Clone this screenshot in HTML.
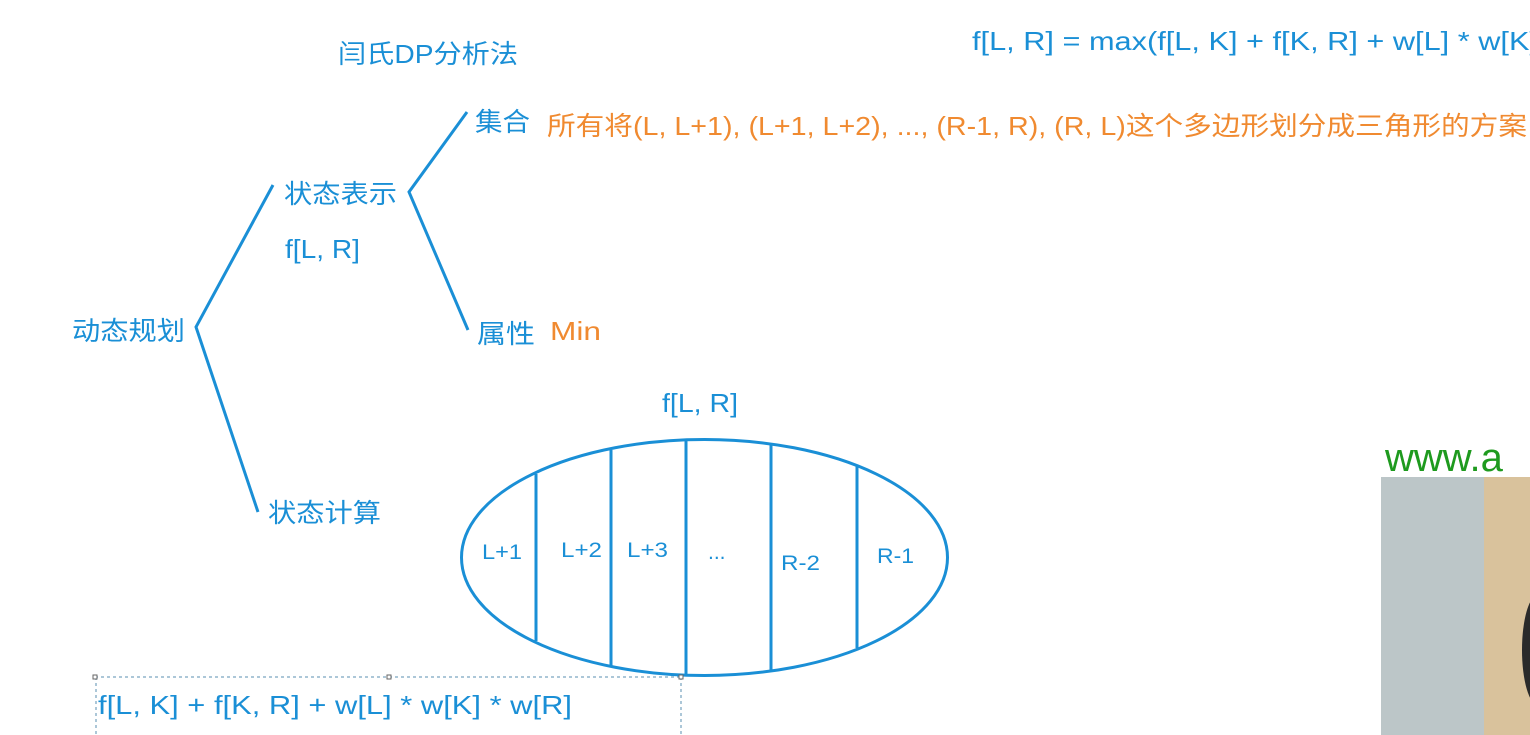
<!DOCTYPE html>
<html><head><meta charset="utf-8"><style>
html,body{margin:0;padding:0;background:#fff;width:1530px;height:735px;overflow:hidden;position:relative}
svg{position:absolute;left:0;top:0}
text{font-family:"Liberation Sans","Noto Sans CJK SC",sans-serif}
</style></head><body>
<svg width="1530" height="735" viewBox="0 0 1530 735">
<g stroke="#1a8fd6" stroke-width="3" fill="none">
<polyline points="273,185 196,327 258,512"/>
<polyline points="467,112 409,192 468,330"/>
<ellipse cx="704.5" cy="557.5" rx="243" ry="118"/>
<line x1="536" y1="474" x2="536" y2="641"/>
<line x1="611" y1="450" x2="611" y2="666"/>
<line x1="686" y1="440" x2="686" y2="675"/>
<line x1="771" y1="444" x2="771" y2="670"/>
<line x1="857" y1="466" x2="857" y2="648"/>
</g>
<g stroke="#5a8fb0" stroke-width="1" stroke-dasharray="3,3" fill="none">
<line x1="95" y1="677" x2="681" y2="677"/>
<line x1="96" y1="677" x2="96" y2="735"/>
<line x1="681" y1="677" x2="681" y2="735"/>
</g>
<g fill="#fff" stroke="#666" stroke-width="1">
<rect x="93" y="675" width="4" height="4"/><rect x="387" y="675" width="4" height="4"/><rect x="679" y="675" width="4" height="4"/>
</g>
<g fill="#1a8fd6" font-size="26" lengthAdjust="spacingAndGlyphs">
<text x="338" y="63" textLength="180" lengthAdjust="spacingAndGlyphs">闫氏DP分析法</text>
<text x="972" y="50" textLength="566" lengthAdjust="spacingAndGlyphs">f[L, R] = max(f[L, K] + f[K, R] + w[L] * w[K]</text>
<text x="475" y="131" textLength="55" lengthAdjust="spacingAndGlyphs">集合</text>
<text x="284" y="203" textLength="113" lengthAdjust="spacingAndGlyphs">状态表示</text>
<text x="285" y="258" textLength="75" lengthAdjust="spacingAndGlyphs">f[L, R]</text>
<text x="72" y="340" textLength="113" lengthAdjust="spacingAndGlyphs">动态规划</text>
<text x="477" y="343" textLength="58" lengthAdjust="spacingAndGlyphs">属性</text>
<text x="662" y="412" textLength="76" lengthAdjust="spacingAndGlyphs">f[L, R]</text>
<text x="268" y="522" textLength="113" lengthAdjust="spacingAndGlyphs">状态计算</text>
<text x="98" y="714" textLength="474" lengthAdjust="spacingAndGlyphs">f[L, K] + f[K, R] + w[L] * w[K] * w[R]</text>
</g>
<g fill="#1a8fd6" font-size="21">
<text x="482" y="559" textLength="40" lengthAdjust="spacingAndGlyphs">L+1</text>
<text x="561" y="557" textLength="41" lengthAdjust="spacingAndGlyphs">L+2</text>
<text x="627" y="557" textLength="41" lengthAdjust="spacingAndGlyphs">L+3</text>
<text x="708" y="559">...</text>
<text x="781" y="570" textLength="39" lengthAdjust="spacingAndGlyphs">R-2</text>
<text x="877" y="563" textLength="37" lengthAdjust="spacingAndGlyphs">R-1</text>
</g>
<g fill="#f08a30" font-size="26">
<text x="547" y="135" textLength="980" lengthAdjust="spacingAndGlyphs">所有将(L, L+1), (L+1, L+2), ..., (R-1, R), (R, L)这个多边形划分成三角形的方案</text>
<text x="550" y="340" textLength="51" lengthAdjust="spacingAndGlyphs">Min</text>
</g>
<text x="1385" y="471" font-size="40" fill="#1e9a1e">www.a</text>
<rect x="1381" y="477" width="149" height="258" fill="#bcc6c8"/>
<rect x="1484" y="477" width="46" height="258" fill="#d9c29c"/>
<ellipse cx="1538" cy="650" rx="16" ry="55" fill="#2a2a2a"/>
</svg>
</body></html>
